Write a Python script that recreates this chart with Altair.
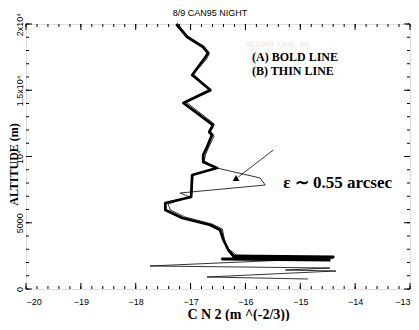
import altair as alt
import pandas as pd

# ---- data (log10 CN2, altitude in m) ----
bold_cn2 = [-17.26, -17.06, -16.77, -16.68, -16.74, -16.97, -16.64, -17.13, -16.59, -16.66,
            -16.61, -16.70, -16.77, -16.77, -16.52, -16.97, -16.99, -17.46, -17.46, -17.15,
            -16.64, -16.46, -16.40, -16.31, -16.22, -14.40, -16.42, -14.45]
bold_alt = [20000, 19019, 18264, 17811, 17434, 16151, 15019, 14038, 12377, 11849,
            11623, 10717, 10113, 9585, 9132, 8604, 6943, 6491, 5962, 5358,
            4830, 4453, 3698, 2943, 2491, 2415, 2264, 2189]

thin_cn2 = [-17.26, -17.04, -16.75, -16.66, -16.72, -16.95, -16.63, -17.08, -16.57, -16.64,
            -16.57, -16.66, -16.73, -16.75, -16.52, -15.73, -15.64, -17.19, -17.01, -17.41,
            -17.37, -17.10, -16.61, -16.42, -16.39, -16.35, -16.17, -14.40, -17.74, -14.46,
            -15.27, -14.35, -16.70, -14.86]
thin_alt = [20000, 19019, 18189, 17736, 17283, 16226, 14943, 14113, 12453, 11925,
            11547, 10792, 10113, 9660, 9132, 8377, 7849, 7245, 6943, 6415,
            5962, 5434, 4906, 4528, 3849, 3170, 2566, 2340, 1736, 1585,
            1434, 1358, 906, 755]

arrow_cn2 = [-15.49, -16.13]
arrow_alt = [10491, 8453]
arrowhead_cn2 = [-16.17]
arrowhead_alt = [8377]

x_tick_values = [-20, -19, -18, -17, -16, -15, -14, -13]
y_tick_values = [0, 5000, 10000, 15000, 20000]
y_tick_labels = ["0", "5000", "10\u2074", "1.5x10\u2074", "2x10\u2074"]

x_minor = [round(-20 + 0.2 * i, 2) for i in range(36)]
y_minor = [1000 * i for i in range(21)]

W, H = 384, 265
XD = [-20, -13]
YD = [0, 20000]

ylab_expr = "".join(
    f"datum.value == {v} ? '{l}' : " for v, l in zip(y_tick_values, y_tick_labels)
) + "''"

x_axis = alt.Axis(values=x_tick_values, ticks=False, domain=False, grid=False,
                  labelFont="Liberation Sans", labelFontSize=9, labelColor="black",
                  labelPadding=8, labelBaseline="top",
                  title="C N 2 (m ^(-2/3))", titleFont="Liberation Serif",
                  titleFontWeight="bold", titleFontSize=14, titleColor="black",
                  titleX=212, titleY=29, titleBaseline="alphabetic")
y_axis = alt.Axis(values=y_tick_values, ticks=False, domain=False, grid=False,
                  labelExpr=ylab_expr, labelAngle=-90, labelAlign="center",
                  labelBaseline="bottom", labelPadding=2,
                  labelFont="Liberation Sans", labelFontSize=9, labelColor="black",
                  title="ALTITUDE (m)", titleFont="Liberation Serif",
                  titleFontWeight="bold", titleFontSize=12, titleColor="black",
                  titleAngle=-90, titleX=-13, titleY=140, titleAlign="center",
                  titleBaseline="middle")

xs = alt.Scale(domain=XD, nice=False, zero=False)
ys = alt.Scale(domain=YD, nice=False, zero=False)


def X(f):
    return alt.X(f, type="quantitative", scale=xs, axis=x_axis)


def Y(f):
    return alt.Y(f, type="quantitative", scale=ys, axis=y_axis)


bold_df = pd.DataFrame({"cn2": bold_cn2, "alt": bold_alt, "i": range(len(bold_cn2))})
thin_df = pd.DataFrame({"cn2": thin_cn2, "alt": thin_alt, "i": range(len(thin_cn2))})
arrow_df = pd.DataFrame({"cn2": arrow_cn2, "alt": arrow_alt, "i": range(2)})
head_df = pd.DataFrame({"cn2": arrowhead_cn2, "alt": arrowhead_alt})

thin = alt.Chart(thin_df).mark_line(color="black", strokeWidth=0.8).encode(
    x=X("cn2"), y=Y("alt"), order="i:Q")
bold = alt.Chart(bold_df).mark_line(color="black", strokeWidth=2.8, strokeJoin="round").encode(
    x=X("cn2"), y=Y("alt"), order="i:Q")
arrow = alt.Chart(arrow_df).mark_line(color="black", strokeWidth=0.8).encode(
    x=X("cn2"), y=Y("alt"), order="i:Q")
head = alt.Chart(head_df).mark_point(shape="triangle-up", filled=True, color="black",
                                     size=45, opacity=1).encode(x=X("cn2"), y=Y("alt"))

texts_df = pd.DataFrame({
    "cn2": [-15.99, -15.88, -15.88, -15.31],
    "alt": [18400, 17509, 16453, 8000],
    "t": ["SLIGHT LINE: (b)", "(A) BOLD LINE", "(B) THIN LINE", "\u03b5 \u223c 0.55 arcsec"],
})
ghost = alt.Chart(texts_df.iloc[[0]]).mark_text(
    align="left", baseline="middle", font="Liberation Sans", fontSize=8, color="#e4e4e4"
).encode(x=X("cn2"), y=Y("alt"), text="t:N")
legend_txt = alt.Chart(texts_df.iloc[[1, 2]]).mark_text(
    align="left", baseline="middle", font="Liberation Serif", fontSize=12,
    fontWeight="bold", color="black"
).encode(x=X("cn2"), y=Y("alt"), text="t:N")
eps_txt = alt.Chart(texts_df.iloc[[3]]).mark_text(
    align="left", baseline="middle", font="Liberation Serif", fontSize=17,
    fontWeight="bold", color="black"
).encode(x=X("cn2"), y=Y("alt"), text="t:N")

title_df = pd.DataFrame({"t": ["8/9 CAN95 NIGHT"]})
title_txt = alt.Chart(title_df).mark_text(
    align="center", baseline="middle", font="Liberation Sans", fontSize=9, color="black"
).encode(x=alt.value(W / 2 - 8), y=alt.value(-11), text="t:N")

# inward ticks
ymin_df = pd.DataFrame({"v": y_minor})
ymaj_df = pd.DataFrame({"v": y_tick_values})
xmin_df = pd.DataFrame({"v": x_minor})
xmaj_df = pd.DataFrame({"v": x_tick_values})


def yticks(df, ln):
    left = alt.Chart(df).mark_rule(color="black", strokeWidth=1).encode(
        y=Y("v"), x=alt.value(0), x2=alt.value(ln))
    right = alt.Chart(df).mark_rule(color="black", strokeWidth=1).encode(
        y=Y("v"), x=alt.value(W), x2=alt.value(W - ln))
    return [left, right]


def xticks(df, ln):
    bot = alt.Chart(df).mark_rule(color="black", strokeWidth=1).encode(
        x=X("v"), y=alt.value(H), y2=alt.value(H - ln))
    top = alt.Chart(df).mark_rule(color="black", strokeWidth=1).encode(
        x=X("v"), y=alt.value(0), y2=alt.value(ln))
    return [bot, top]


layers = [thin, bold, arrow, head, ghost, legend_txt, eps_txt, title_txt]
layers += yticks(ymin_df, 3) + yticks(ymaj_df, 6) + xticks(xmin_df, 3) + xticks(xmaj_df, 6)

chart = alt.layer(*layers).properties(
    width=W, height=H,
    autosize=alt.AutoSizeParams(type="none"),
    padding={"left": 18, "top": 16, "right": 1, "bottom": 32},
).configure_view(stroke="black", strokeWidth=1).configure(background="white")

chart.save("out.html", embed_options={"renderer": "svg", "actions": False})
